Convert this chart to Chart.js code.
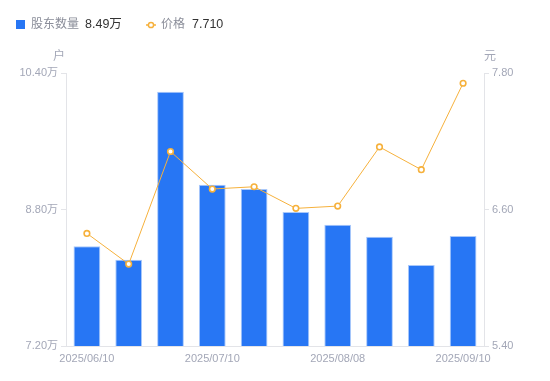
<!DOCTYPE html>
<html><head><meta charset="utf-8">
<script src="https://cdn.jsdelivr.net/npm/chart.js@4/dist/chart.umd.min.js"></script>
<style>html,body{margin:0;padding:0;background:#fff;}#wrap{width:550px;height:381px;position:relative;}</style>
</head><body><div id="wrap"><canvas id="c" width="550" height="381"></canvas></div>
<script>
const dates = ['2025/06/10','2025/06/20','2025/06/30','2025/07/10','2025/07/20','2025/07/31','2025/08/08','2025/08/20','2025/08/29','2025/09/10'];
const holders = [8.37, 8.21, 10.18, 9.09, 9.04, 8.77, 8.62, 8.48, 8.15, 8.49];
const prices = [6.39, 6.12, 7.11, 6.78, 6.80, 6.61, 6.63, 7.15, 6.95, 7.71];
const leftTicks = [7.20, 8.80, 10.40];
const rightTicks = [5.40, 6.60, 7.80];
const legendHolder = '8.49万';
const legendPrice = '7.710';

const FONT = '"Liberation Sans", Arial, "Noto Sans CJK SC", sans-serif';
const AREA = {l:66, r:484, t:73, b:346};
const tickColor = '#a3a7b7';
const axisColor = '#e3e4e8';

const overlay = {
  id:'overlay',
  afterDraw(chart){
    const ctx = chart.ctx;
    ctx.save();
    ctx.textBaseline = 'middle';
    // legend
    ctx.fillStyle = '#2776f4';
    ctx.fillRect(16, 20, 9, 9);
    ctx.font = '12px ' + FONT;
    ctx.fillStyle = '#8a8d99';
    ctx.textAlign = 'left';
    ctx.fillText('股东数量', 31, 25);
    ctx.font = '12.5px ' + FONT;
    ctx.fillStyle = '#333';
    ctx.fillText(legendHolder, 85, 25);
    ctx.strokeStyle = '#f6b13c'; ctx.lineWidth = 1.5;
    ctx.beginPath(); ctx.moveTo(146,25); ctx.lineTo(156,25); ctx.stroke();
    ctx.fillStyle = '#fff';
    ctx.beginPath(); ctx.arc(151,25,2.6,0,Math.PI*2); ctx.fill(); ctx.stroke();
    ctx.font = '12px ' + FONT;
    ctx.fillStyle = '#8a8d99';
    ctx.fillText('价格', 161, 25);
    ctx.font = '12.5px ' + FONT;
    ctx.fillStyle = '#333';
    ctx.fillText(legendPrice, 192, 25);
    // units
    ctx.font = '12px ' + FONT;
    ctx.fillStyle = tickColor;
    ctx.textAlign = 'center';
    ctx.fillText('户', 59, 57);
    ctx.fillText('元', 490, 57);
    ctx.restore();
  }
};

new Chart(document.getElementById('c'), {
  data: {
    labels: dates,
    datasets: [
      { type:'line', label:'价格', data: prices, yAxisID:'y1', order:0,
        borderColor:'#f6b13c', borderWidth:1, pointRadius:2.8, pointBorderWidth:1.6,
        pointBackgroundColor:'#fff', pointBorderColor:'#f6b13c', tension:0 },
      { type:'bar', label:'股东数量', data: holders, yAxisID:'y', order:1,
        backgroundColor:'#2776f4', borderColor:'#a9c8fa', borderWidth:1, borderSkipped:'bottom',
        categoryPercentage:0.64, barPercentage:1 }
    ]
  },
  options: {
    responsive:false, animation:false,
    layout:{padding:{top:AREA.t, left:0, right:0, bottom:0}},
    plugins:{legend:{display:false}, tooltip:{enabled:false}},
    scales:{
      x:{
        grid:{display:false, drawTicks:false}, border:{display:true, color:axisColor},
        ticks:{autoSkip:false, maxRotation:0, color:tickColor, padding:6, font:{size:11, family:FONT},
          callback:function(v,i){ return i%3===0 ? dates[i] : ''; }},
        afterFit(s){ s.height = 381 - AREA.b; }
      },
      y:{
        position:'left', min:leftTicks[0], max:leftTicks[leftTicks.length-1],
        afterBuildTicks(s){ s.ticks = leftTicks.map(v=>({value:v})); },
        grid:{drawOnChartArea:false, drawTicks:true, tickLength:5, color:axisColor},
        border:{display:true, color:axisColor},
        ticks:{color:tickColor, padding:3, font:{size:11, family:FONT}, callback:v=>Number(v).toFixed(2)+'万'},
        afterFit(s){ s.width = AREA.l; }
      },
      y1:{
        position:'right', min:rightTicks[0], max:rightTicks[rightTicks.length-1],
        afterBuildTicks(s){ s.ticks = rightTicks.map(v=>({value:v})); },
        grid:{drawOnChartArea:false, drawTicks:true, tickLength:5, color:axisColor},
        border:{display:true, color:axisColor},
        ticks:{color:tickColor, padding:3, font:{size:11, family:FONT}, callback:v=>Number(v).toFixed(2)},
        afterFit(s){ s.width = 550 - AREA.r; }
      }
    }
  },
  plugins:[overlay]
});
</script></body></html>
